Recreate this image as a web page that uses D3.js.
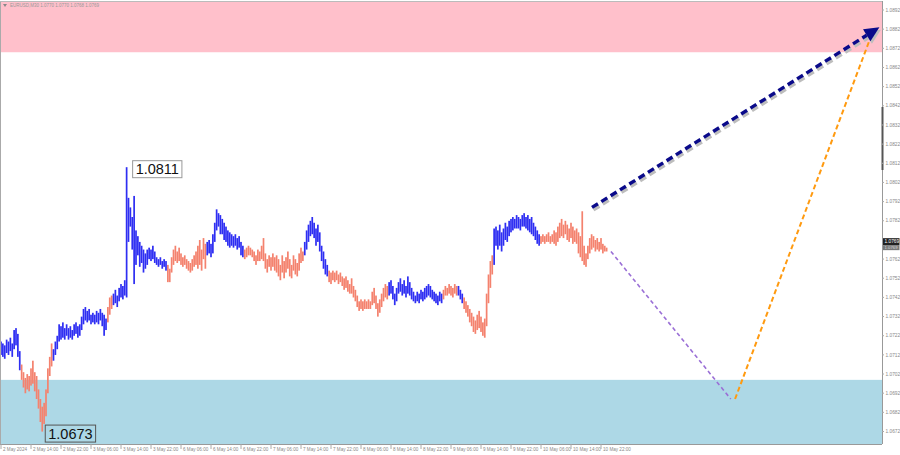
<!DOCTYPE html>
<html><head><meta charset="utf-8">
<script src="https://cdn.jsdelivr.net/npm/d3@7"></script>
<style>body{margin:0;background:#fff}svg{display:block}</style>
</head><body>
<svg id="c" width="900" height="455"></svg>
<script>
// ---------------- data ----------------
const chartTitle = "EURUSD,M30  1.0770 1.0770 1.0768 1.0769";
const timeLabels = ["2 May 2024","2 May 14:00","2 May 22:00","3 May 06:00","3 May 14:00","3 May 22:00",
  "6 May 06:00","6 May 14:00","6 May 22:00","7 May 06:00","7 May 14:00","7 May 22:00","8 May 06:00",
  "8 May 14:00","8 May 22:00","9 May 06:00","9 May 14:00","9 May 22:00","10 May 06:00","10 May 14:00","10 May 22:00"];
const barsPerLabel = 16;
const priceTicks = [1.0892,1.0882,1.0872,1.0862,1.0852,1.0842,1.0832,1.0822,1.0812,1.0802,1.0792,1.0782,
  1.0762,1.0752,1.0742,1.0732,1.0722,1.0712,1.0702,1.0692,1.0682,1.0672];
const highs = [
 1.0720,1.0719,1.0718,1.0721,1.0720,1.0722,1.0719,1.0726,1.0727,1.0724,1.0715,
 1.0708,1.0704,1.0701,1.0703,1.0702,1.0706,1.0710,1.0704,1.0702,1.0695,1.0690,1.0686,1.0688,1.0695,1.0706,1.0712,1.0719,
 1.0716,1.0720,1.0723,1.0729,1.0728,1.0730,1.0727,1.0729,1.0727,1.0728,1.0726,1.0729,1.0730,1.0728,1.0729,1.0733,1.0737,1.0738,1.0736,1.0737,1.0734,1.0735,1.0734,1.0736,1.0735,1.0737,1.0735,1.0734,1.0732,
 1.0738,1.0743,1.0744,
 1.0745,1.0747,1.0744,1.0748,1.0750,1.0749,1.0752,
 1.0811,
 1.0795,1.0790,1.0785,1.0796,1.0778,1.0775,1.0772,1.0770,1.0768,1.0766,1.0768,1.0769,1.0768,1.0770,1.0767,1.0764,1.0763,1.0764,1.0762,1.0763,1.0762,
 1.0760,1.0758,1.0764,1.0768,1.0770,1.0767,1.0769,1.0766,1.0764,1.0765,1.0763,1.0762,1.0761,1.0763,1.0765,1.0767,1.0770,1.0773,1.0768,1.0774,1.0771,
 1.0772,1.0773,1.0771,1.0776,1.0782,1.0789,1.0787,1.0786,1.0784,1.0782,1.0780,1.0778,1.0777,1.0776,1.0775,1.0776,1.0774,1.0775,1.0772,1.0770,
 1.0768,1.0769,1.0770,1.0769,1.0768,1.0767,1.0765,1.0768,1.0767,1.0770,1.0774,1.0766,1.0763,1.0765,1.0764,1.0766,1.0764,1.0765,1.0763,1.0760,1.0765,1.0762,1.0764,1.0767,1.0763,1.0760,1.0765,1.0763,1.0761,1.0766,1.0769,1.0767,
 1.0772,1.0778,1.0781,1.0783,1.0785,1.0782,1.0779,1.0781,1.0777,1.0770,1.0767,1.0763,1.0760,
 1.0757,1.0756,1.0757,1.0756,1.0757,1.0755,1.0756,1.0754,1.0753,1.0754,1.0752,1.0750,1.0753,1.0749,1.0747,1.0744,1.0741,1.0742,1.0741,1.0742,1.0741,1.0742,1.0741,1.0746,1.0748,1.0744,1.0740,1.0742,1.0745,1.0748,1.0750,1.0749,
 1.0751,1.0752,1.0749,1.0745,1.0748,1.0751,1.0753,1.0750,1.0752,1.0749,1.0754,1.0751,1.0748,1.0746,1.0744,1.0746,1.0745,1.0747,1.0746,1.0748,1.0749,1.0750,1.0749,1.0747,1.0746,1.0745,1.0744,1.0746,1.0745,
 1.0747,1.0749,1.0748,1.0750,1.0749,1.0748,1.0750,1.0749,
 1.0749,1.0747,1.0745,
 1.0743,1.0741,1.0739,1.0737,1.0735,1.0733,1.0731,1.0734,1.0736,1.0733,1.0730,1.0732,1.0745,1.0755,1.0762,1.0765,
 1.0779,1.0780,1.0778,1.0781,1.0777,1.0779,1.0782,1.0780,1.0783,1.0784,1.0785,1.0784,1.0786,1.0785,1.0784,1.0786,1.0787,1.0785,1.0786,1.0784,1.0785,1.0782,1.0780,1.0778,1.0776,
 1.0775,1.0776,1.0775,1.0776,1.0777,1.0775,1.0776,1.0778,1.0777,1.0780,1.0782,1.0784,1.0781,1.0783,1.0781,1.0779,1.0782,1.0780,1.0778,1.0779,1.0777,1.0775,1.0788,1.0770,1.0766,1.0770,1.0774,1.0776,1.0775,1.0773,1.0774,1.0772,1.0774,1.0771,1.0770,1.0769
];
const lows = [
 1.0713,1.0712,1.0711,1.0714,1.0713,1.0715,1.0712,1.0716,1.0718,1.0712,1.0705,
 1.0700,1.0696,1.0693,1.0695,1.0694,1.0697,1.0698,1.0694,1.0690,1.0685,1.0678,1.0673,1.0677,1.0681,1.0693,1.0702,1.0707,
 1.0710,1.0713,1.0716,1.0720,1.0721,1.0722,1.0721,1.0723,1.0721,1.0722,1.0721,1.0723,1.0724,1.0722,1.0723,1.0726,1.0729,1.0731,1.0730,1.0731,1.0729,1.0730,1.0729,1.0730,1.0729,1.0731,1.0728,1.0723,1.0726,
 1.0730,1.0734,1.0737,
 1.0739,1.0740,1.0738,1.0741,1.0743,1.0742,1.0744,
 1.0743,
 1.0772,1.0780,1.0768,1.0750,1.0760,1.0765,1.0759,1.0761,1.0756,1.0758,1.0760,1.0763,1.0762,1.0763,1.0761,1.0760,1.0759,1.0760,1.0758,1.0759,1.0757,
 1.0751,1.0751,1.0756,1.0760,1.0762,1.0761,1.0762,1.0760,1.0759,1.0760,1.0758,1.0757,1.0756,1.0757,1.0759,1.0760,1.0758,1.0760,1.0757,1.0763,1.0758,
 1.0765,1.0766,1.0764,1.0766,1.0772,1.0778,1.0780,1.0776,1.0776,1.0773,1.0772,1.0770,1.0769,1.0770,1.0769,1.0770,1.0768,1.0769,1.0765,1.0764,
 1.0763,1.0764,1.0765,1.0765,1.0764,1.0762,1.0760,1.0762,1.0762,1.0763,1.0762,1.0758,1.0756,1.0759,1.0757,1.0759,1.0757,1.0756,1.0754,1.0752,1.0756,1.0753,1.0756,1.0758,1.0754,1.0753,1.0757,1.0755,1.0754,1.0757,1.0761,1.0762,
 1.0765,1.0768,1.0772,1.0775,1.0776,1.0774,1.0770,1.0772,1.0767,1.0762,1.0758,1.0755,1.0754,
 1.0751,1.0750,1.0752,1.0751,1.0752,1.0750,1.0751,1.0749,1.0747,1.0748,1.0746,1.0745,1.0745,1.0743,1.0741,1.0738,1.0736,1.0737,1.0736,1.0737,1.0737,1.0737,1.0737,1.0739,1.0740,1.0737,1.0733,1.0735,1.0738,1.0741,1.0743,1.0742,
 1.0744,1.0745,1.0742,1.0739,1.0741,1.0745,1.0746,1.0744,1.0745,1.0743,1.0745,1.0744,1.0742,1.0741,1.0740,1.0741,1.0740,1.0742,1.0741,1.0742,1.0743,1.0744,1.0743,1.0742,1.0741,1.0740,1.0739,1.0741,1.0740,
 1.0742,1.0744,1.0744,1.0745,1.0744,1.0743,1.0745,1.0744,
 1.0744,1.0742,1.0740,
 1.0737,1.0735,1.0733,1.0730,1.0728,1.0725,1.0724,1.0726,1.0727,1.0725,1.0723,1.0722,1.0728,1.0740,1.0748,1.0755,
 1.0760,1.0770,1.0768,1.0770,1.0767,1.0770,1.0773,1.0772,1.0775,1.0777,1.0778,1.0779,1.0779,1.0779,1.0778,1.0780,1.0780,1.0779,1.0778,1.0777,1.0776,1.0775,1.0773,1.0771,1.0770,
 1.0771,1.0772,1.0771,1.0772,1.0772,1.0771,1.0772,1.0771,1.0770,1.0772,1.0774,1.0775,1.0774,1.0776,1.0773,1.0772,1.0774,1.0771,1.0772,1.0771,1.0766,1.0764,1.0762,1.0760,1.0759,1.0763,1.0766,1.0768,1.0769,1.0767,1.0768,1.0767,1.0768,1.0766,1.0767,1.0767
];
const waveStarts = [0,11,28,57,60,89,110,130,162,175,207,236,244,247,263,288];
const waveDirs   = ["up","down","up","down","up","down","up","down","up","down","up","down","up","down","up","down"];
const extremeLabels = [{bar:67, price:1.0811, text:"1.0811", pos:"top"}, {bar:22, price:1.0673, text:"1.0673", pos:"bottom"}];
const resistanceZone = [1.0871, 1.0905];
const supportZone = [1.0660, 1.0700];
const forecastMain = [{bar:315.2, price:1.0790},{bar:468.5, price:1.0884}];
const forecastDown = [{bar:325.3, price:1.0767},{bar:389.2, price:1.0690}];
const forecastUp   = [{bar:391.5, price:1.0690},{bar:463.5, price:1.0878}];
const lastPrice = 1.0769;

// ---------------- chart ----------------
const svg = d3.select("#c");
const plotR = 882, plotB = 444, plotT = 1;
const x = d3.scaleLinear().domain([0, 320]).range([1, 601]);
const y = d3.scaleLinear().domain([1.0672, 1.0892]).range([433.5, 12]);
const colorOf = {up:"#2e2ef2", down:"#f4826e"};

svg.append("defs").append("clipPath").attr("id","clip")
  .append("rect").attr("x",0).attr("y",plotT).attr("width",plotR).attr("height",plotB-plotT);
const g = svg.append("g").attr("clip-path","url(#clip)");

// zones
g.append("rect").attr("x",0).attr("width",plotR)
  .attr("y", y(resistanceZone[1])).attr("height", y(resistanceZone[0]) - y(resistanceZone[1]))
  .attr("fill","#ffc0cb");
g.append("rect").attr("x",0).attr("width",plotR)
  .attr("y", y(supportZone[1])).attr("height", y(supportZone[0]) - y(supportZone[1]))
  .attr("fill","#add8e6");

// bars
const bars = highs.map((h,i)=>{
  let k = 0; for (let j=0;j<waveStarts.length;j++) if (i>=waveStarts[j]) k=j;
  return {i, h, l: lows[i], dir: waveDirs[k]};
});
g.append("g").selectAll("rect").data(bars).join("rect")
  .attr("x", d=>x(d.i)-0.85).attr("width",1.7)
  .attr("y", d=>y(d.h)).attr("height", d=>Math.max(1, y(d.l)-y(d.h)))
  .attr("fill", d=>colorOf[d.dir]);

// forecasts
const line = d3.line().x(d=>x(d.bar)).y(d=>y(d.price));
g.append("path").attr("d", line(forecastDown)).attr("fill","none")
  .attr("stroke","#9a6fd6").attr("stroke-width",1.6).attr("stroke-dasharray","4,3");
g.append("path").attr("d", line(forecastUp)).attr("fill","none")
  .attr("stroke","#ff9a10").attr("stroke-width",2).attr("stroke-dasharray","5,3");

// main arrow with shadow
function arrow(pts, color, dx, dy) {
  const p0 = [x(pts[0].bar)+dx, y(pts[0].price)+dy], p1 = [x(pts[1].bar)+dx, y(pts[1].price)+dy];
  const len = Math.hypot(p1[0]-p0[0], p1[1]-p0[1]);
  const ux = (p1[0]-p0[0])/len, uy = (p1[1]-p0[1])/len;
  const hl = 15, hw = 7;
  const base = [p1[0]-ux*hl, p1[1]-uy*hl];
  g.append("line").attr("x1",p0[0]).attr("y1",p0[1]).attr("x2",base[0]).attr("y2",base[1])
    .attr("stroke",color).attr("stroke-width",3.4).attr("stroke-dasharray","7,4");
  g.append("path").attr("d", `M${p1[0]},${p1[1]}L${base[0]-uy*hw},${base[1]+ux*hw}L${base[0]+uy*hw},${base[1]-ux*hw}Z`)
    .attr("fill",color);
}
arrow(forecastMain, "#bdbdbd", 1.5, 2.5);
arrow(forecastMain, "#0a0a8a", 0, 0);

// extreme labels
extremeLabels.forEach(d=>{
  const bx = x(d.bar) + (d.pos==="top" ? 6 : 3);
  const by = y(d.price) + 2;
  const grp = svg.append("g");
  const t = grp.append("text").attr("x", bx+3).attr("y", by).attr("dy","0.36em")
    .attr("font-family","Liberation Sans, Arial, sans-serif").attr("font-size",14.5).attr("fill","#111").text(d.text);
  const w = t.node().getComputedTextLength();
  grp.insert("rect","text").attr("x",bx).attr("y",by-8.5).attr("width",w+6).attr("height",17)
    .attr("fill", d.pos==="top" ? "#fff" : "none").attr("stroke", d.pos==="top" ? "#999" : "#555").attr("stroke-width",1);
});

// frame
svg.append("line").attr("x1",0.5).attr("x2",0.5).attr("y1",plotT).attr("y2",plotB).attr("stroke","#aaa");
svg.append("line").attr("x1",0).attr("x2",plotR).attr("y1",1.5).attr("y2",1.5).attr("stroke","#bbb");
svg.append("line").attr("x1",0).attr("x2",plotR).attr("y1",plotB+0.5).attr("y2",plotB+0.5).attr("stroke","#999");
svg.append("line").attr("x1",plotR+0.5).attr("x2",plotR+0.5).attr("y1",plotT).attr("y2",plotB).attr("stroke","#999");
svg.append("line").attr("x1",plotR+0.5).attr("x2",plotR+0.5).attr("y1",107).attr("y2",170).attr("stroke","#555").attr("stroke-width",2);

// right axis
const fnt = "Liberation Sans, Arial, sans-serif";
svg.append("g").selectAll("text").data(priceTicks).join("text")
  .attr("x", plotR+3.5).attr("y", d=>y(d)-2).attr("dy","0.35em")
  .attr("font-family",fnt).attr("font-size",4.8).attr("fill","#888").text(d=>d.toFixed(4));
svg.append("g").selectAll("line").data(priceTicks).join("line")
  .attr("x1",plotR).attr("x2",plotR+2).attr("y1",d=>y(d)-2).attr("y2",d=>y(d)-2).attr("stroke","#aaa");
// last price box
const ly = y(lastPrice)-6;
svg.append("rect").attr("x",plotR+1).attr("y",ly-3.5).attr("width",16.5).attr("height",7).attr("fill","#222");
svg.append("text").attr("x",plotR+2.5).attr("y",ly).attr("dy","0.35em").attr("font-family",fnt)
  .attr("font-size",4.8).attr("fill","#fff").text(lastPrice.toFixed(4));
svg.append("rect").attr("x",plotR+1).attr("y",ly+3.5).attr("width",16.5).attr("height",5).attr("fill","#777");
svg.append("text").attr("x",plotR+2.5).attr("y",ly+6).attr("dy","0.35em").attr("font-family",fnt)
  .attr("font-size",4.3).attr("fill","#ddd").text(lastPrice.toFixed(4));

// time axis
const tl = svg.append("g");
timeLabels.forEach((t,k)=>{
  const xx = x(k*barsPerLabel);
  tl.append("line").attr("x1",xx).attr("x2",xx).attr("y1",plotB).attr("y2",plotB+5).attr("stroke","#aaa");
  tl.append("text").attr("x",xx+2).attr("y",plotB+5).attr("dy","0.35em")
    .attr("font-family",fnt).attr("font-size",4.6).attr("fill","#888").text(t);
});

// title
svg.append("path").attr("d","M3,4 L7,4 L5,7 Z").attr("fill","#888");
svg.append("text").attr("x",10).attr("y",5.5).attr("dy","0.35em").attr("font-family",fnt)
  .attr("font-size",4.5).attr("fill","#999").text(chartTitle);
</script>
</body></html>
